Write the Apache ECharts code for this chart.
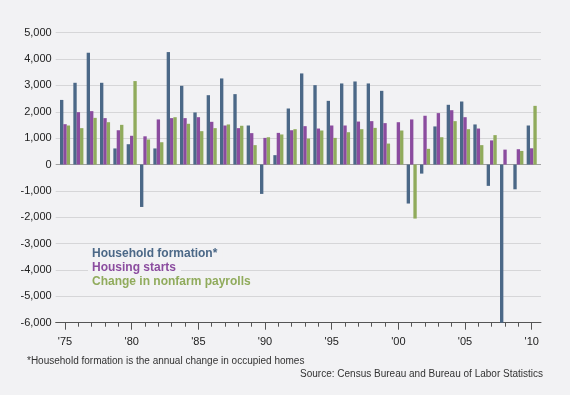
<!DOCTYPE html>
<html>
<head>
<meta charset="utf-8">
<script src="https://cdn.jsdelivr.net/npm/echarts@6/dist/echarts.min.js"></script>
<style>
html,body{margin:0;padding:0;background:#f2f2f4;}
#chart{width:570px;height:395px;}
</style>
</head>
<body>
<div id="chart"></div>
<script>
var years = [1975,1976,1977,1978,1979,1980,1981,1982,1983,1984,1985,1986,1987,1988,1989,1990,1991,1992,1993,1994,1995,1996,1997,1998,1999,2000,2001,2002,2003,2004,2005,2006,2007,2008,2009,2010];
var householdFormation = [2450,3100,4240,3100,610,770,-1610,610,4265,2985,1975,2630,3265,2670,1480,-1115,355,2125,3455,3010,2415,3075,3150,3075,2795,0,-1480,-345,1445,2265,2390,1520,-810,-6000,-940,1480];
var housingStarts = [1530,1985,2025,1760,1300,1090,1070,1710,1760,1760,1795,1620,1480,1380,1190,1010,1200,1300,1455,1365,1480,1480,1630,1645,1570,1605,1710,1850,1950,2060,1795,1365,915,565,580,615];
var payrollChange = [1480,1380,1770,1605,1505,3165,950,845,1795,1545,1265,1380,1520,1470,735,1035,1140,1340,985,1290,1010,1225,1340,1390,795,1290,-2050,595,1035,1645,1340,735,1115,0,515,2225];
var yTicks = [-6000,-5000,-4000,-3000,-2000,-1000,0,1000,2000,3000,4000,5000];
var seriesNames = ['Household formation*','Housing starts','Change in nonfarm payrolls'];
var colors = ['#4b6887','#8b4c9f','#90ab5c'];

var bg = '#f2f2f4';
var gridCol = '#d6d6d8';
var splitColors = yTicks.map(function(v){ return v === 0 ? '#a0a0a0' : gridCol; });
var font = 'Liberation Sans, Arial, sans-serif';
var cats = years.map(String);
function isMajor(i){ return years[i] % 5 === 0; }

var chart = echarts.init(document.getElementById('chart'), null, {renderer:'canvas'});
// wide grid: gridlines, y labels, full-length baseline
var wide = {left:55.7, top:32.7, width:485.3, height:290};
// narrow grid: exactly 36 year bands
var narrow = {left:58.37, top:32.7, width:480, height:290};
var option = {
  backgroundColor: bg,
  animation: false,
  color: colors,
  textStyle: {fontFamily: font},
  title: [
    {text: '*Household formation is the annual change in occupied homes', left: 22, top: 351,
     textStyle: {fontSize: 10, fontWeight: 'normal', color: '#333', fontFamily: font}},
    {text: 'Source: Census Bureau and Bureau of Labor Statistics', right: 22, top: 364,
     textStyle: {fontSize: 10, fontWeight: 'normal', color: '#333', fontFamily: font}}
  ],
  legend: {
    orient: 'vertical', left: 83, top: 247, padding: 0, itemGap: 0.5,
    icon: 'none', itemWidth: 0, itemHeight: 12, selectedMode: false,
    data: seriesNames.map(function(n,i){ return {name:n, textStyle:{color: colors[i]}}; }),
    textStyle: {fontSize: 12, fontWeight: 'bold', backgroundColor: bg, padding: [0,5,0,4], lineHeight: 13.5,
      fontFamily: font}
  },
  grid: [wide, narrow, narrow],
  xAxis: [
    {type:'value', gridIndex:0, min:0, max:1,
     axisLine:{show:true, onZero:false, lineStyle:{color:'#555', width:1}},
     axisTick:{show:false}, axisLabel:{show:false}, splitLine:{show:false}},
    {type:'category', gridIndex:1, data: cats, boundaryGap:true,
     axisLine:{show:false, onZero:false},
     axisTick:{show:true, alignWithLabel:true, length:7, lineStyle:{color:'#555'},
       interval: function(i){ return isMajor(i); }},
     axisLabel:{margin:14, fontSize:11, color:'#222',
       interval: function(i){ return isMajor(i); },
       formatter: function(v){ return "'" + v.slice(2); }},
     splitLine:{show:false}},
    {type:'category', gridIndex:2, data: cats, boundaryGap:true,
     axisLine:{show:false, onZero:false},
     axisTick:{show:true, alignWithLabel:true, length:4, interval:0, lineStyle:{color:'#555'}},
     axisLabel:{show:false}, splitLine:{show:false}}
  ],
  yAxis: [
    {type:'value', gridIndex:0, min:-6000, max:5000, interval:1000,
     axisLine:{show:false}, axisTick:{show:false},
     axisLabel:{fontSize:11, color:'#222', margin:4,
       formatter: function(v){ return v.toLocaleString('en-US'); }},
     splitLine:{show:true, lineStyle:{color: splitColors, width:1}}},
    {type:'value', gridIndex:1, min:-6000, max:5000, interval:1000, show:false},
    {type:'value', gridIndex:2, min:-6000, max:5000, interval:1000, show:false}
  ],
  series: [
    {name: seriesNames[0], type:'bar', xAxisIndex:1, yAxisIndex:1, data: householdFormation, barWidth:3.35, barGap:'0%'},
    {name: seriesNames[1], type:'bar', xAxisIndex:1, yAxisIndex:1, data: housingStarts, barWidth:3.35, barGap:'0%'},
    {name: seriesNames[2], type:'bar', xAxisIndex:1, yAxisIndex:1, data: payrollChange, barWidth:3.35, barGap:'0%'}
  ]
};
chart.setOption(option);
</script>
</body>
</html>
